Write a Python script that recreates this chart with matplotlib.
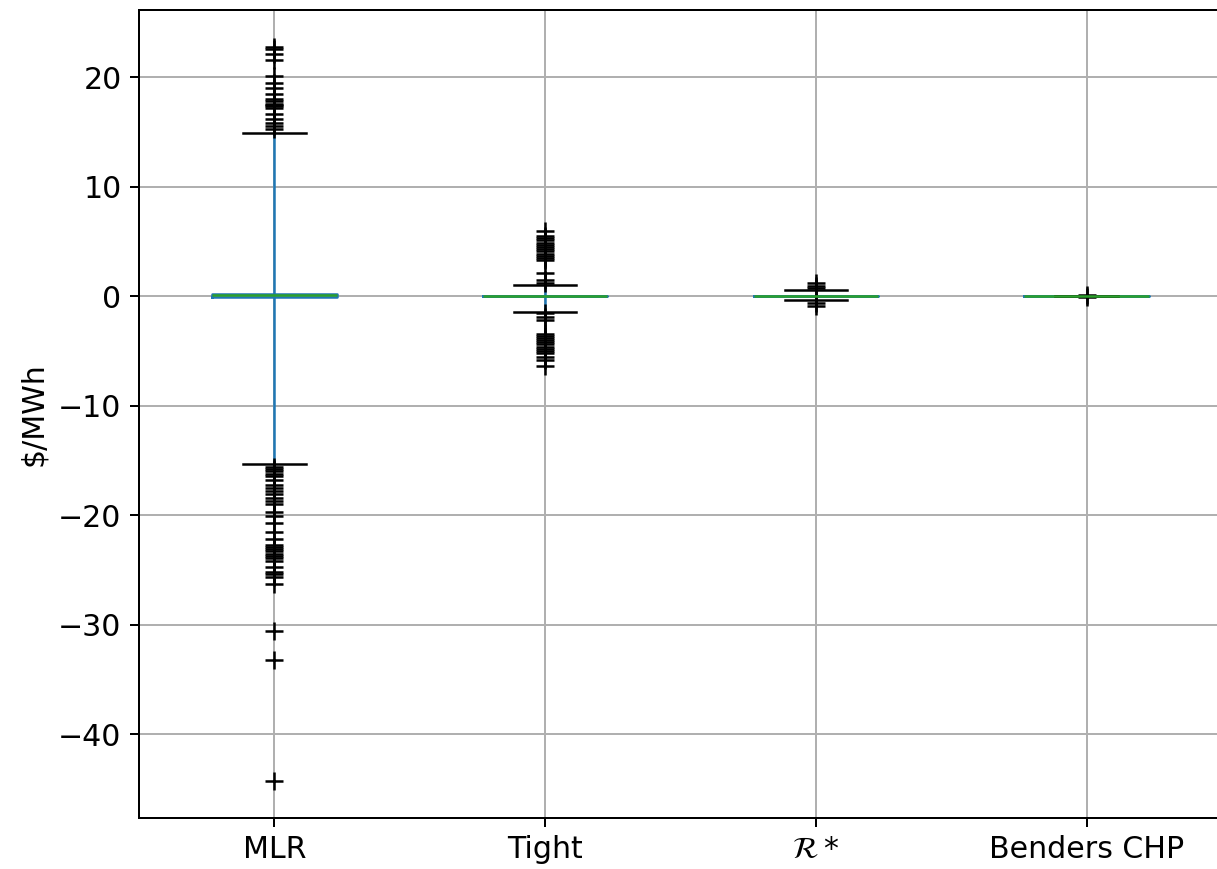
import matplotlib
matplotlib.use("Agg")
import matplotlib.pyplot as plt

# categories
labels = ["MLR", "Tight", r"$\mathcal{R}*$", "Benders CHP"]

# box stats ($/MWh)
medians = [0.1, 0.0, 0.0, 0.0]
q1 = [-0.05, 0.0, 0.0, 0.0]
q3 = [0.25, 0.0, 0.0, 0.0]
whislo = [-15.3, -1.4, -0.3, 0.0]
whishi = [14.9, 1.0, 0.6, 0.0]

# outliers
fliers_mlr = [22.8, 22.6, 22.1, 21.6, 20.1, 19.5, 19.0, 18.5, 18.0, 17.8, 17.6, 17.5,
              17.4, 17.2, 16.7, 16.2, 15.8, 15.6, 15.3,
              -15.6, -15.8, -16.0, -16.2, -16.4, -16.8, -17.2, -17.5, -17.8, -18.1,
              -18.4, -18.7, -19.0, -19.7, -20.1, -20.7, -21.5, -22.2, -22.7, -22.9,
              -23.1, -23.3, -23.5, -23.7, -23.9, -24.2, -24.7, -25.2, -25.4, -25.6,
              -26.3, -30.6, -33.2, -44.3]
fliers_tight = [6.0, 5.5, 5.3, 5.1, 4.9, 4.7, 4.5, 4.3, 4.1, 3.9, 3.7, 3.5, 3.3,
                2.1, 1.5, 1.2,
                -1.5, -1.9, -2.2, -3.4, -3.6, -3.8, -4.0, -4.2, -4.4, -4.6, -4.8,
                -5.0, -5.2, -5.5, -5.8, -6.4]
fliers_rstar = [1.2, 0.9, 0.8, -0.6, -0.9]
fliers_benders = [0.1, -0.05]
fliers = [fliers_mlr, fliers_tight, fliers_rstar, fliers_benders]

stats = []
for i in range(len(labels)):
    stats.append({"label": labels[i], "med": medians[i], "q1": q1[i], "q3": q3[i],
                  "whislo": whislo[i], "whishi": whishi[i], "fliers": fliers[i]})

fig = plt.figure(figsize=(1217 / 180, 869 / 180), dpi=180)
ax = fig.add_axes([139 / 1217, 51 / 869, 1083 / 1217, 808 / 869])

ax.bxp(stats, widths=0.46,
       boxprops=dict(color="C0"),
       whiskerprops=dict(color="C0"),
       capprops=dict(color="k"),
       medianprops=dict(color="C2"),
       flierprops=dict(marker="+", markeredgecolor="k", markersize=7, linestyle="none"))

ax.grid(True)
ax.set_ylabel(r"\$/MWh", fontsize=12)
ax.tick_params(labelsize=12)

fig.savefig("out.png", dpi=180)
